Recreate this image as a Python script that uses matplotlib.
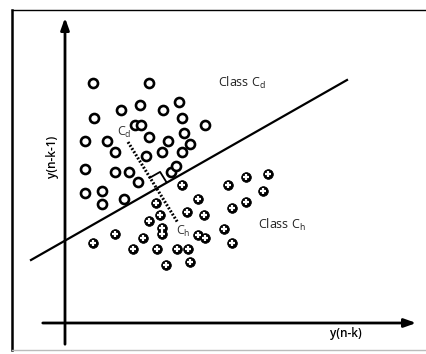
import matplotlib.pyplot as plt
import matplotlib

matplotlib.rcParams['mathtext.default'] = 'regular'
plt.rcParams['font.family'] = ['Open Sans', 'DejaVu Sans']

# class C_d samples (drawing coordinates, y grows downwards)
cd_x = [93, 149, 121, 140, 163, 179, 94, 135, 141, 182, 205, 85, 107, 149, 168, 184, 190,
        115, 146, 162, 182, 85, 115, 129, 138, 171, 176, 85, 102, 102, 124]
cd_y = [83, 83, 110, 105, 110, 102, 118, 125, 125, 118, 125, 141, 141, 137, 141, 133, 144,
        152, 156, 152, 152, 169, 172, 172, 182, 172, 166, 193, 191, 204, 199]

# class C_h samples
ch_x = [182, 156, 198, 228, 246, 268, 263, 246, 232, 160, 187, 204, 149, 162, 162, 143,
        133, 157, 177, 188, 166, 190, 198, 205, 224, 232, 93, 115]
ch_y = [185, 203, 199, 185, 177, 174, 191, 202, 208, 215, 212, 215, 221, 228, 234, 238,
        249, 249, 249, 249, 265, 262, 235, 238, 229, 243, 243, 234]

# separating line and the distance segment between the two classes
line_x = [31, 347]
line_y = [260, 80]
dist_x = [128, 178]
dist_y = [142, 223]
# right angle mark
sq_x = [156, 166.4, 160.1, 149.7]
sq_y = [188, 182.1, 171.9, 177.8]

fig = plt.figure(figsize=(4.27, 3.54), dpi=100)
ax = fig.add_axes([0, 0, 1, 1])
ax.set_xlim(0, 427)
ax.set_ylim(354, 0)
ax.axis('off')

# frame
ax.plot([12, 12], [10, 350], color='black', lw=1.8)
ax.plot([12, 427], [10, 10], color='black', lw=1.0)
ax.plot([12, 427], [350, 350], color='#bbbbbb', lw=1.0)

# axes with arrows
ax.annotate('', xy=(65, 15), xytext=(65, 347),
            arrowprops=dict(arrowstyle='-|>,head_length=0.7,head_width=0.25', color='black', lw=2))
ax.annotate('', xy=(419, 323), xytext=(40, 323),
            arrowprops=dict(arrowstyle='-|>,head_length=0.7,head_width=0.25', color='black', lw=2))

ax.plot(line_x, line_y, color='black', lw=1.6)
ax.plot(dist_x, dist_y, color='black', lw=2.2, ls=(0, (0.6, 0.6)))
ax.plot(sq_x[1:], sq_y[1:], color='black', lw=1.3)

ax.plot(cd_x, cd_y, 'o', ms=6.5, mfc='white', mec='black', mew=1.9)
ax.plot(ch_x, ch_y, 'o', ms=7.0, mfc='black', mec='black', mew=0.5)
ax.plot(ch_x, ch_y, '+', ms=4.3, color='white', mew=1.6)

ax.text(218, 83, 'Class C$_{d}$', fontsize=9, va='center', ha='left', color='#222222')
ax.text(258, 225, 'Class C$_{h}$', fontsize=9, va='center', ha='left', color='#222222')
ax.text(117, 132, 'C$_{d}$', fontsize=9, va='center', ha='left', color='#333333')
ax.text(176, 231, 'C$_{h}$', fontsize=9, va='center', ha='left', color='#333333')
ax.text(53, 157, 'y(n-k-1)', fontsize=8.5, va='center', ha='center', rotation=90,
        fontweight='semibold')
ax.text(346, 334, 'y(n-k)', fontsize=8.5, va='center', ha='center', fontweight='semibold')

plt.savefig('out.png', dpi=100)
